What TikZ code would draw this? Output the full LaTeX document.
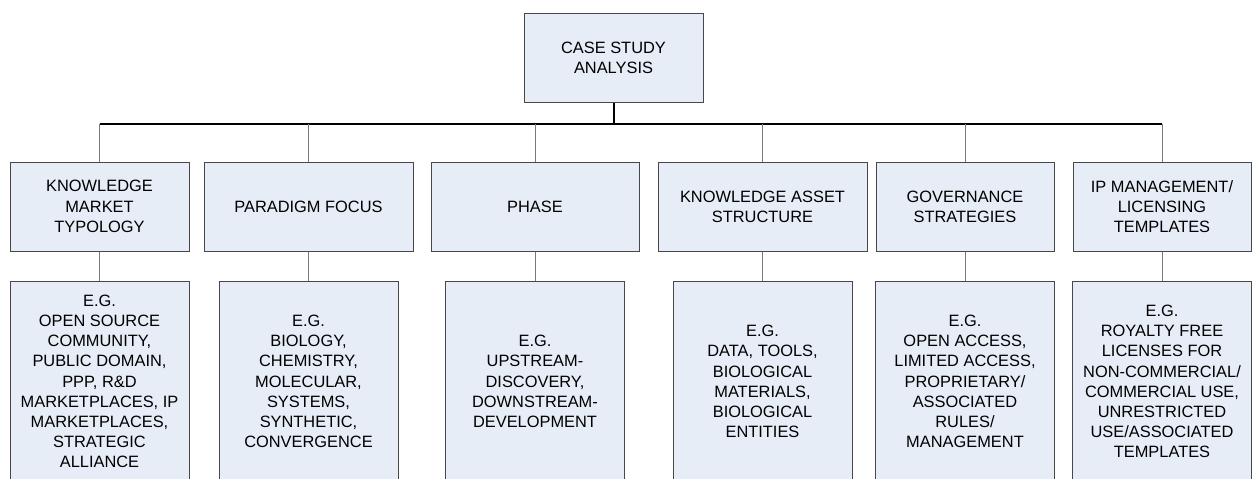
\documentclass[tikz,border=0pt]{standalone}
\usepackage{fontspec}
\setmainfont{Liberation Sans}
\usepackage{xcolor}
\definecolor{boxfill}{HTML}{E7EDF7}
\definecolor{boxline}{HTML}{474747}
\definecolor{dropline}{HTML}{7A7A7A}
\tikzset{
  box/.style={draw=boxline, fill=boxfill, line width=1pt, inner sep=0pt,
    align=center, font=\fontsize{16.4}{20.2}\selectfont},
  head/.style={box, minimum height=89pt},
  example/.style={box, minimum width=179pt, minimum height=201pt},
  drop/.style={dropline, line width=1pt}
}

\begin{document}
\begin{tikzpicture}[x=1pt, y=-1pt]
    \useasboundingbox (0,0) rectangle (1256,479);
    \clip (0,0) rectangle (1256,479);
    % top of the tree
    \node[head, minimum width=179pt] (top) at (613.5, 57.5) {CASE STUDY\\ANALYSIS};
    \coordinate (bus) at (613.5, 124);
    % second row
    \node[head, minimum width=179pt] (kmt) at (99.5, 206.5) {KNOWLEDGE\\MARKET\\TYPOLOGY};
    \node[head, minimum width=209pt] (pf) at (308.5, 206.5) {PARADIGM FOCUS};
    \node[head, minimum width=208pt] (ph) at (535, 206.5) {PHASE};
    \node[head, minimum width=209pt] (kas) at (762.5, 206.5) {KNOWLEDGE ASSET\\STRUCTURE};
    \node[head, minimum width=178pt] (gs) at (965, 206.5) {GOVERNANCE\\STRATEGIES};
    \node[head, minimum width=178pt] (ipm) at (1162, 206.5) {IP MANAGEMENT/\\LICENSING\\TEMPLATES};
    % examples row
    \node[example] (kmt-ex) at (99.5, 381.5) {E.G.\\OPEN SOURCE\\COMMUNITY,\\PUBLIC DOMAIN,\\PPP, R\&D\\MARKETPLACES, IP\\MARKETPLACES,\\STRATEGIC\\ALLIANCE};
    \node[example] (pf-ex) at (308.5, 381.5) {E.G.\\BIOLOGY,\\CHEMISTRY,\\MOLECULAR,\\SYSTEMS,\\SYNTHETIC,\\CONVERGENCE};
    \node[example] (ph-ex) at (535, 381.5) {E.G.\\UPSTREAM-\\DISCOVERY,\\DOWNSTREAM-\\DEVELOPMENT};
    \node[example] (kas-ex) at (762.5, 381.5) {E.G.\\DATA, TOOLS,\\BIOLOGICAL\\MATERIALS,\\BIOLOGICAL\\ENTITIES};
    \node[example] (gs-ex) at (965, 381.5) {E.G.\\OPEN ACCESS,\\LIMITED ACCESS,\\PROPRIETARY/\\ASSOCIATED\\RULES/\\MANAGEMENT};
    \node[example] (ipm-ex) at (1162, 381.5) {E.G.\\ROYALTY FREE\\LICENSES FOR\\NON-COMMERCIAL/\\COMMERCIAL USE,\\UNRESTRICTED\\USE/ASSOCIATED\\TEMPLATES};
    % connectors
    \draw[black, line width=2pt] (top.south) -- (bus);
    \draw[black, line width=1.2pt] (kmt.north |- bus) -- (ipm.north |- bus);
    \foreach \n in {kmt, pf, ph, kas, gs, ipm} {
      \draw[drop] (\n.north |- bus) -- (\n.north);
      \draw[drop] (\n.south) -- (\n-ex.north);
    }
\end{tikzpicture}
\end{document}
